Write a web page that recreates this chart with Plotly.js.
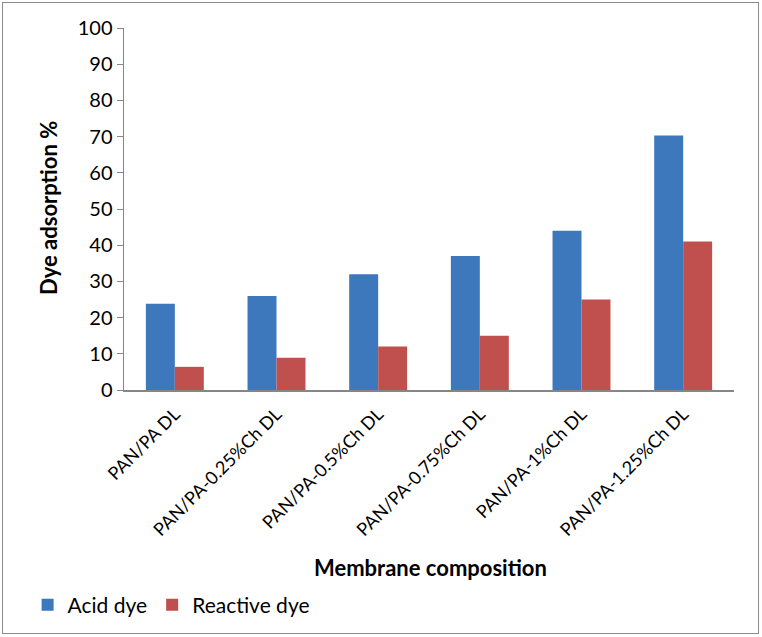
<!DOCTYPE html>
<html>
<head>
<meta charset="utf-8">
<script src="https://cdn.plot.ly/plotly-3.0.1.min.js"></script>
<style>
  body { margin: 0; background: #fff; }
  #frame { position: absolute; left: 2px; top: 2px; width: 755px; height: 630px; border: 1px solid #8c8c8c; }
  #chart { position: absolute; left: 0; top: 0; width: 762px; height: 637px; }
</style>
</head>
<body>
<div id="chart"></div>
<div id="frame"></div>
<script>
const CATEGORIES = ['PAN/PA DL', 'PAN/PA-0.25%Ch DL', 'PAN/PA-0.5%Ch DL', 'PAN/PA-0.75%Ch DL', 'PAN/PA-1%Ch DL', 'PAN/PA-1.25%Ch DL']
const ACID_DYE = [23.8, 26, 32, 37, 44, 70.3]
const REACTIVE_DYE = [6.4, 8.9, 12, 15, 25, 41]
const Y_TICKS = [0, 10, 20, 30, 40, 50, 60, 70, 80, 90, 100]

const FONT = 'Lato, "Open Sans", sans-serif'

let data = [
  {
    name: 'Acid dye',
    type: 'bar',
    x: CATEGORIES,
    y: ACID_DYE,
    marker: { color: '#3d78bd' }
  },
  {
    name: 'Reactive dye',
    type: 'bar',
    x: CATEGORIES,
    y: REACTIVE_DYE,
    marker: { color: '#c0504d' }
  }
]

let layout = {
  width: 762,
  height: 637,
  paper_bgcolor: '#fff',
  plot_bgcolor: '#fff',
  font: { family: FONT, color: '#000' },
  barmode: 'group',
  bargap: 0.43,
  bargroupgap: 0,
  margin: { l: 124, r: 28, t: 28, b: 247 },
  showlegend: true,
  legend: {
    orientation: 'h',
    x: -0.158,
    xanchor: 'left',
    y: -0.594,
    yanchor: 'middle',
    font: { size: 21, family: FONT },
    itemwidth: 30,
    tracegroupgap: 0
  },
  xaxis: {
    type: 'category',
    tickangle: -45,
    ticks: '',
    ticklabelstandoff: 5,
    showline: true,
    linecolor: '#868686',
    linewidth: 1.5,
    showgrid: false,
    zeroline: false,
    tickfont: { size: 18, family: FONT },
    fixedrange: true
  },
  yaxis: {
    range: [0, 100],
    tickvals: Y_TICKS,
    ticks: 'outside',
    ticklen: 6,
    tickcolor: '#868686',
    showline: true,
    linecolor: '#868686',
    linewidth: 1.5,
    showgrid: false,
    zeroline: false,
    tickfont: { size: 20, family: FONT },
    fixedrange: true
  },
  annotations: [
    {
      text: '<b>Dye adsorption %</b>',
      xref: 'paper', yref: 'paper',
      x: -0.123, y: 0.503,
      xanchor: 'center', yanchor: 'middle',
      textangle: -90,
      showarrow: false,
      font: { size: 22, family: FONT }
    },
    {
      text: '<b>Membrane composition</b>',
      xref: 'paper', yref: 'paper',
      x: 0.502, y: -0.489,
      xanchor: 'center', yanchor: 'middle',
      showarrow: false,
      font: { size: 22, family: FONT }
    }
  ]
}

let config = {
  displayModeBar: false,
  staticPlot: true
}

Plotly.newPlot('chart', data, layout, config)
</script>
</body>
</html>
